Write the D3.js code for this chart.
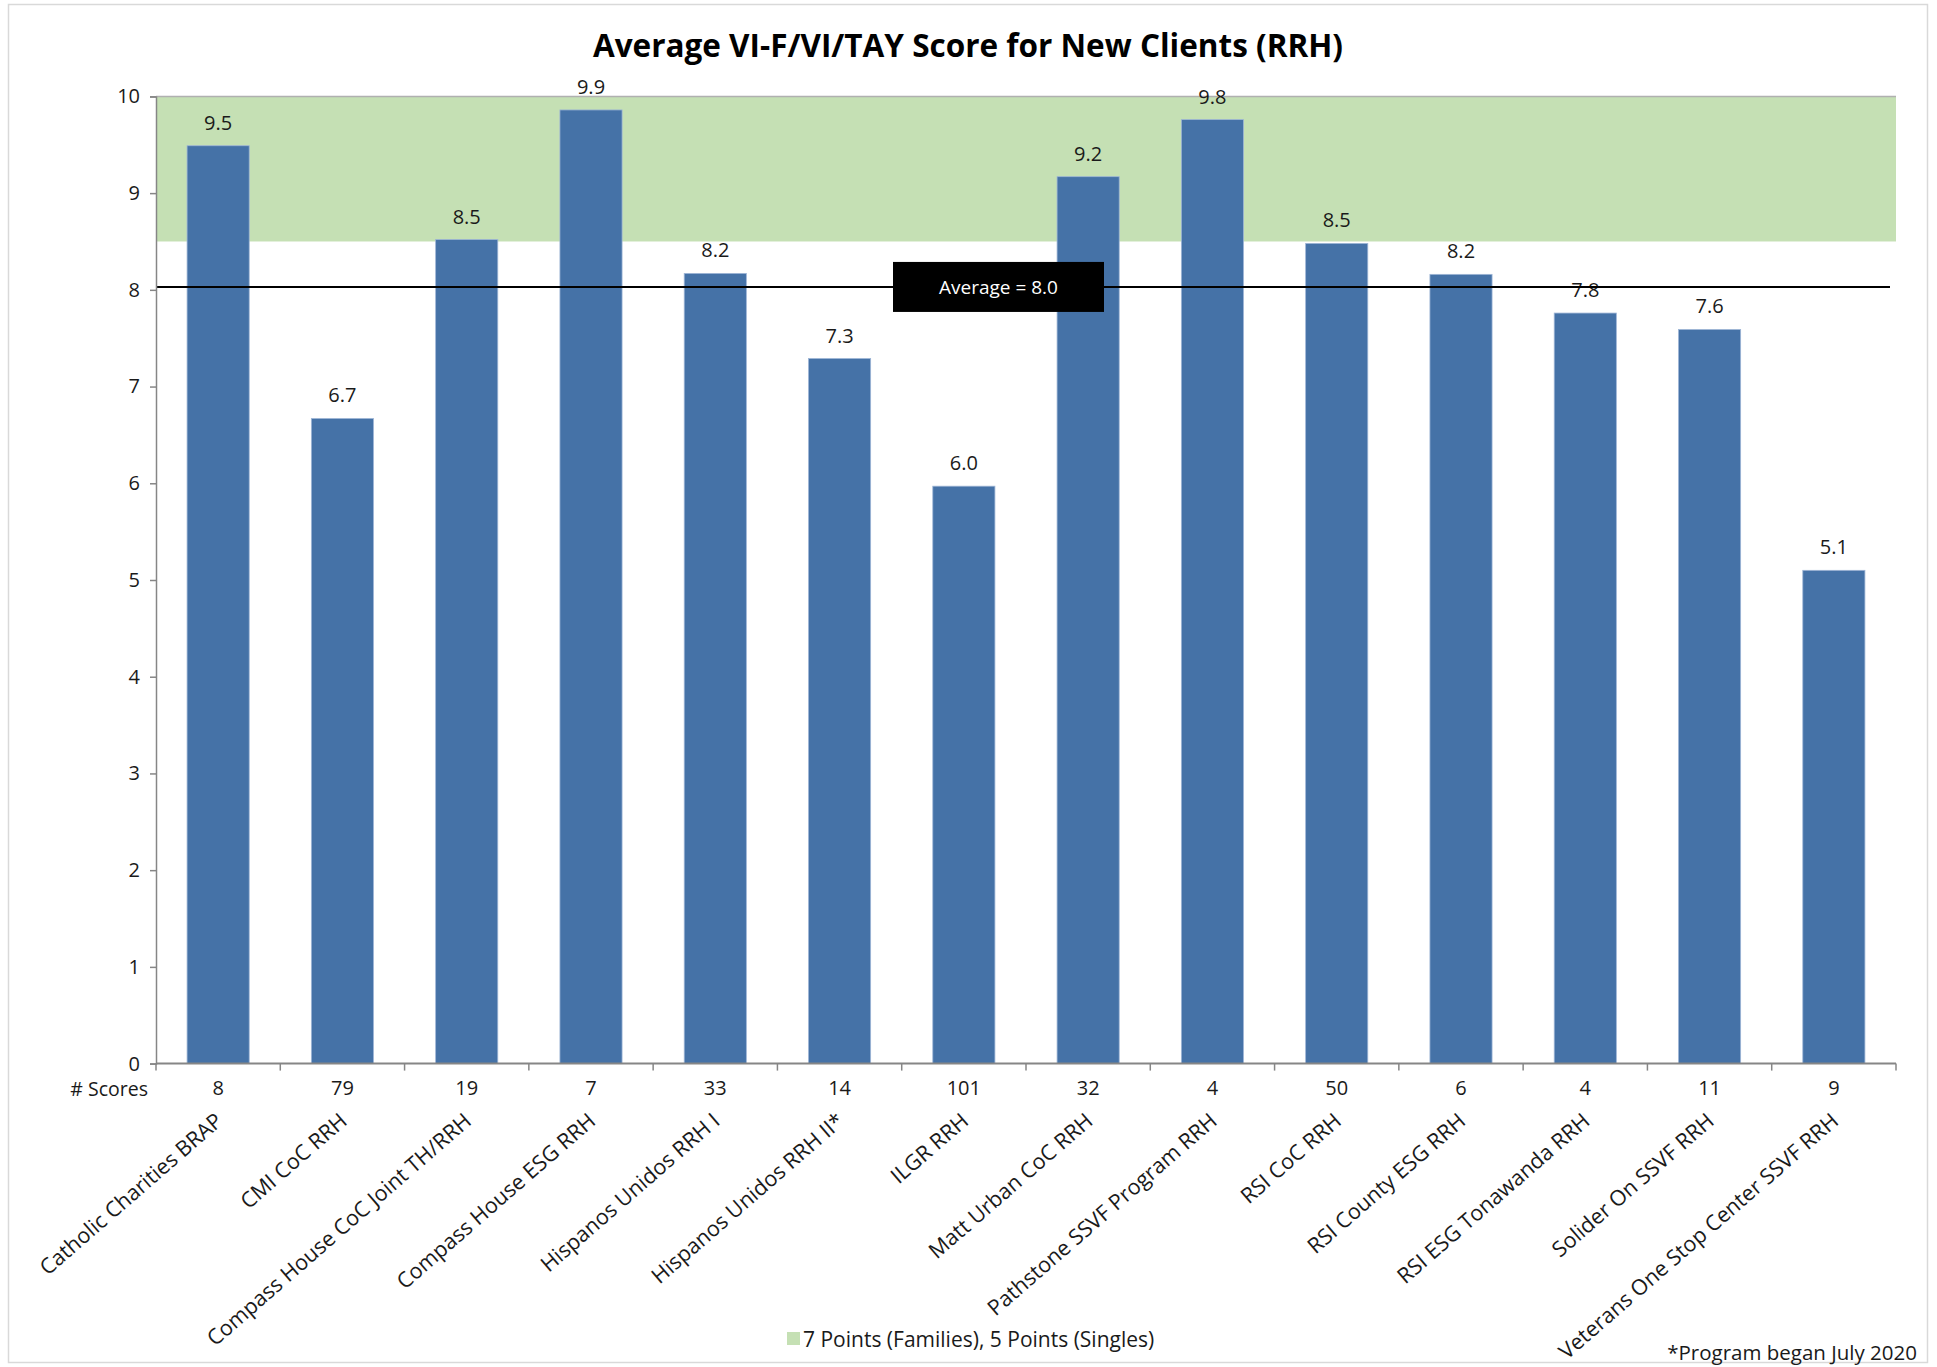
<!DOCTYPE html>
<html>
<head>
<meta charset="utf-8">
<script src="https://cdn.jsdelivr.net/npm/d3@7"></script>
<style>
body { margin: 0; background: #fff; }
text { font-family: "Open Sans", sans-serif; fill: #1a1a1a; }
</style>
</head>
<body>
<div id="chart"></div>
<script>
var programs = ["Catholic Charities BRAP", "CMI CoC RRH", "Compass House CoC Joint TH/RRH",
  "Compass House ESG RRH", "Hispanos Unidos RRH I", "Hispanos Unidos RRH II*", "ILGR RRH",
  "Matt Urban CoC RRH", "Pathstone SSVF Program RRH", "RSI CoC RRH", "RSI County ESG RRH",
  "RSI ESG Tonawanda RRH", "Solider On SSVF RRH", "Veterans One Stop Center SSVF RRH"];
var scores = [9.49, 6.67, 8.52, 9.86, 8.17, 7.29, 5.97, 9.17, 9.76, 8.48, 8.16, 7.76, 7.59, 5.10];
var counts = [8, 79, 19, 7, 33, 14, 101, 32, 4, 50, 6, 4, 11, 9];
var yTicks = [0, 1, 2, 3, 4, 5, 6, 7, 8, 9, 10];
var targetBand = [8.5, 10];
var averageScore = 8.03;

var W = 1937, H = 1367;
var svg = d3.select("#chart").append("svg")
  .attr("width", W).attr("height", H);

// outer frame
svg.append("rect")
  .attr("x", 8.5).attr("y", 4.5).attr("width", 1919).attr("height", 1358)
  .attr("fill", "none").attr("stroke", "#d9d9d9").attr("stroke-width", 1.5);

var x = d3.scaleBand().domain(programs).range([156, 1896])
  .paddingInner(0.5).paddingOuter(0.25);
var y = d3.scaleLinear().domain([0, 10]).range([1063.6, 96.4]);

// green target band
svg.append("rect")
  .attr("x", 156).attr("width", 1740)
  .attr("y", y(targetBand[1])).attr("height", y(targetBand[0]) - y(targetBand[1]))
  .attr("fill", "#c5e0b4");

svg.append("line")
  .attr("x1", 156).attr("x2", 1896).attr("y1", y(10)).attr("y2", y(10))
  .attr("stroke", "#b0b0b0").attr("stroke-width", 1.5);

// bars
svg.selectAll("rect.bar")
  .data(scores)
  .enter()
  .append("rect")
  .attr("class", "bar")
  .attr("x", function(d, i) { return x(programs[i]); })
  .attr("width", x.bandwidth())
  .attr("y", function(d) { return y(d); })
  .attr("height", function(d) { return y(0) - y(d); })
  .attr("fill", "#4572a7")
  .attr("stroke", "#9fb6d6")
  .attr("stroke-width", 0.8);

// value labels
svg.selectAll("text.val")
  .data(scores)
  .enter()
  .append("text")
  .attr("class", "val")
  .attr("x", function(d, i) { return x(programs[i]) + x.bandwidth() / 2; })
  .attr("y", function(d) { return y(d) - 16; })
  .attr("text-anchor", "middle")
  .attr("font-size", 20)
  .text(function(d) { return d.toFixed(1); });

// average line + label
svg.append("line")
  .attr("x1", 156).attr("x2", 1890)
  .attr("y1", y(averageScore)).attr("y2", y(averageScore))
  .attr("stroke", "#000").attr("stroke-width", 2);
svg.append("rect")
  .attr("x", 893).attr("y", y(averageScore) - 25).attr("width", 211).attr("height", 50)
  .attr("fill", "#000");
svg.append("text")
  .attr("x", 998.5).attr("y", y(averageScore) + 7)
  .attr("text-anchor", "middle").attr("font-size", 19)
  .style("fill", "#fff")
  .text("Average = " + averageScore.toFixed(1));

// y axis
var yAxis = svg.append("g")
  .attr("transform", "translate(156,0)")
  .call(d3.axisLeft(y).tickValues(yTicks).tickSize(6).tickPadding(10));
yAxis.selectAll("path, line").attr("stroke", "#868686").attr("stroke-width", 1.5);
yAxis.selectAll("text").attr("font-size", 20).attr("font-family", "Open Sans").style("fill", "#1a1a1a");

// x axis line and ticks at band boundaries
svg.append("line")
  .attr("x1", 156).attr("x2", 1896).attr("y1", y(0)).attr("y2", y(0))
  .attr("stroke", "#868686").attr("stroke-width", 2);
var step = x.step();
svg.selectAll("line.xtick")
  .data(d3.range(programs.length + 1))
  .enter()
  .append("line")
  .attr("class", "xtick")
  .attr("x1", function(i) { return 156 + i * step; })
  .attr("x2", function(i) { return 156 + i * step; })
  .attr("y1", y(0)).attr("y2", y(0) + 7)
  .attr("stroke", "#868686").attr("stroke-width", 1.5);

// counts row
svg.append("text")
  .attr("x", 148).attr("y", 1096)
  .attr("text-anchor", "end").attr("font-size", 19.5)
  .text("# Scores");
svg.selectAll("text.cnt")
  .data(counts)
  .enter()
  .append("text")
  .attr("class", "cnt")
  .attr("x", function(d, i) { return x(programs[i]) + x.bandwidth() / 2; })
  .attr("y", 1095)
  .attr("text-anchor", "middle")
  .attr("font-size", 20)
  .text(function(d) { return d; });

// category labels
svg.selectAll("text.cat")
  .data(programs)
  .enter()
  .append("text")
  .attr("class", "cat")
  .attr("text-anchor", "end")
  .attr("font-size", 21.5)
  .attr("transform", function(d) {
    return "translate(" + (x(d) + x.bandwidth() / 2 + 6) + ",1123) rotate(-41)";
  })
  .text(function(d) { return d; });

// title
svg.append("text")
  .attr("x", 968).attr("y", 57)
  .attr("text-anchor", "middle")
  .attr("font-size", 31.5).attr("font-weight", "bold")
  .style("fill", "#000")
  .text("Average VI-F/VI/TAY Score for New Clients (RRH)");

// legend
svg.append("rect")
  .attr("x", 787).attr("y", 1332).attr("width", 13).attr("height", 13)
  .attr("fill", "#c5e0b4");
svg.append("text")
  .attr("x", 803).attr("y", 1347)
  .attr("font-size", 21)
  .text("7 Points (Families), 5 Points (Singles)");

// footnote
svg.append("text")
  .attr("x", 1917).attr("y", 1360)
  .attr("text-anchor", "end")
  .attr("font-size", 20.5)
  .text("*Program began July 2020");
</script>
</body>
</html>
